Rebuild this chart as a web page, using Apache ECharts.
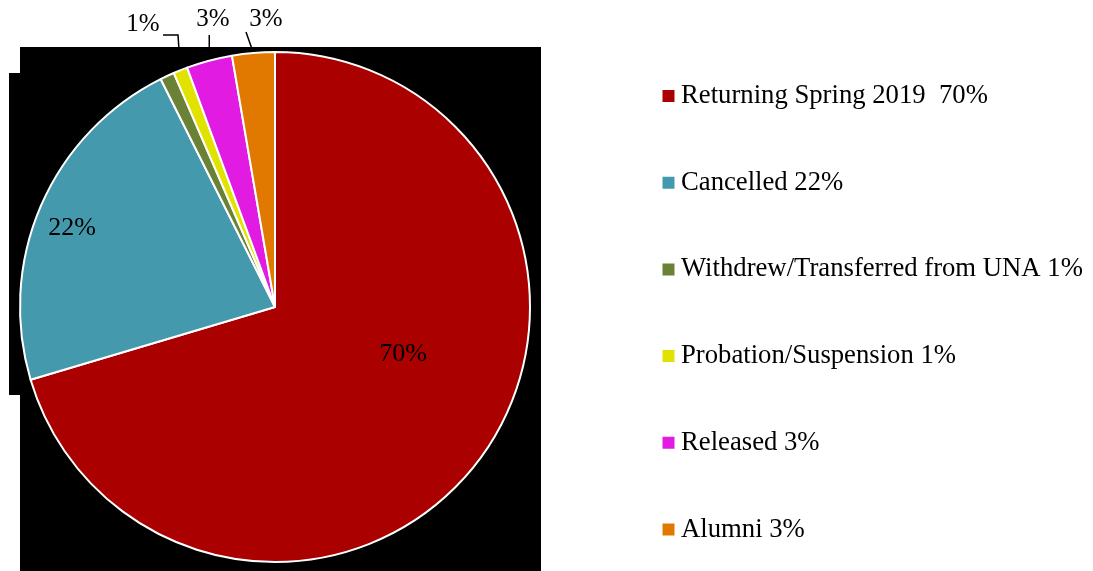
<!DOCTYPE html>
<html>
<head>
<meta charset="utf-8">
<script src="https://cdn.jsdelivr.net/npm/echarts@6/dist/echarts.min.js"></script>
<style>
  html, body { margin: 0; padding: 0; background: #fff; }
  #main { width: 1093px; height: 571px; }
</style>
</head>
<body>
<div id="main"></div>
<script>
// slices, clockwise from 12 o'clock
var categories = ['Returning Spring 2019  70%', 'Cancelled 22%', 'Withdrew/Transferred from UNA 1%',
                  'Probation/Suspension 1%', 'Released 3%', 'Alumni 3%'];
var shares = [70.4, 22.2, 0.9, 0.9, 2.9, 2.7];
var sliceLabels = ['70%', '22%', '', '1%', '3%', '3%'];
var colors = ['#aa0000', '#4499ad', '#6a8136', '#e2e200', '#e11be1', '#e17800'];

var chart = echarts.init(document.getElementById('main'));

var FONT = '"Liberation Serif", "Times New Roman", serif';

var data = categories.map(function (name, i) {
    var outside = i >= 2;
    return {
        name: name,
        value: shares[i],
        itemStyle: { color: colors[i] },
        label: {
            show: sliceLabels[i] !== '',
            position: outside ? 'outside' : 'inside',
            fontSize: outside ? 25 : 26
        },
        labelLine: { show: outside, length: 10, length2: 10 }
    };
});

// where the labels sit (same spots as the original figure)
var labelSpots = {
    0: { x: 403, y: 354 },
    1: { x: 72, y: 228 },
    3: { x: 143, y: 24, line: function (p) { return [p, [178, 35], [163, 35]]; } },
    4: { x: 213, y: 19, line: function (p) { return [p, [p[0], 35]]; } },
    5: { x: 266, y: 19, line: function (p) { return [p, [246, 32]]; } }
};

var option = {
    animation: false,
    graphic: [
        { type: 'rect', z: 0, shape: { x: 20, y: 47, width: 521, height: 524 }, style: { fill: '#000' } },
        { type: 'rect', z: 0, shape: { x: 9, y: 73, width: 11, height: 322 }, style: { fill: '#000' } }
    ],
    legend: {
        orient: 'vertical',
        left: 660.5,
        top: 82.5,
        padding: 0,
        icon: 'rect',
        itemWidth: 14,
        itemHeight: 14,
        itemGap: 59.7,
        selectedMode: false,
        textStyle: {
            fontFamily: FONT,
            fontSize: 26.7,
            color: '#000',
            padding: [0, 0, 0, 0.5]
        },
        data: categories
    },
    series: [
        {
            type: 'pie',
            center: [275, 307],
            radius: 255,
            startAngle: 90,
            clockwise: true,
            avoidLabelOverlap: false,
            itemStyle: { borderColor: '#fff', borderWidth: 2 },
            label: {
                fontFamily: FONT,
                color: '#000',
                formatter: function (p) { return sliceLabels[p.dataIndex]; }
            },
            labelLine: { lineStyle: { color: '#000', width: 1.5 } },
            labelLayout: function (p) {
                var s = labelSpots[p.dataIndex];
                if (!s) return {};
                var out = { x: s.x, y: s.y, align: 'center', verticalAlign: 'middle' };
                if (s.line && p.labelLinePoints) {
                    out.labelLinePoints = s.line(p.labelLinePoints[0]);
                }
                return out;
            },
            data: data
        }
    ]
};

chart.setOption(option);
window.addEventListener('resize', function () { chart.resize(); });
</script>
</body>
</html>
